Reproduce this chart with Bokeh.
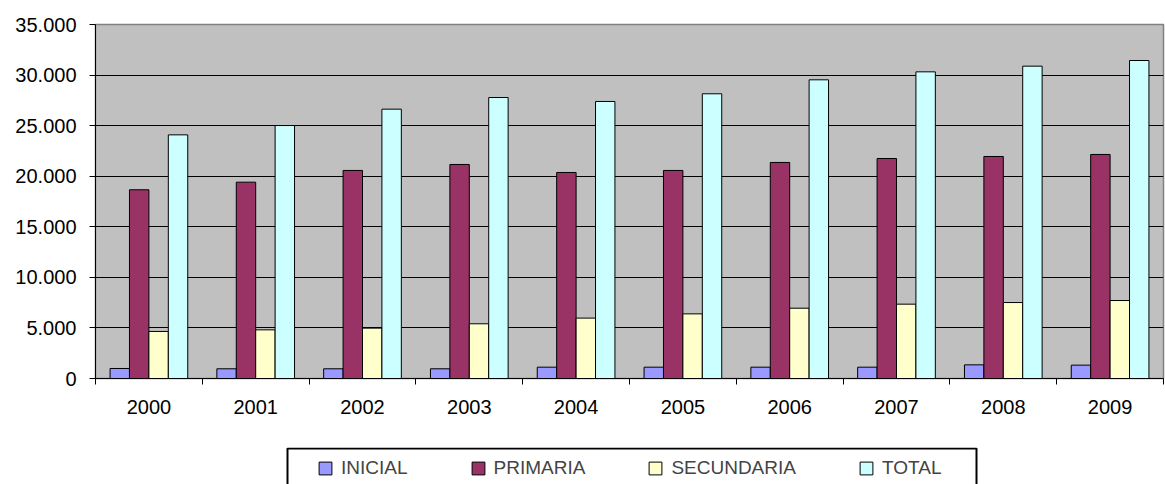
from bokeh.plotting import figure
from bokeh.layouts import column
from bokeh.models import (ColumnDataSource, FixedTicker, Legend, LegendItem, Range1d,
                          BoxAnnotation)
from bokeh.embed import file_html
from bokeh.resources import INLINE

# ---------------- data ----------------
years = ["2000", "2001", "2002", "2003", "2004", "2005", "2006", "2007", "2008", "2009"]
inicial = [990, 960, 960, 960, 1120, 1120, 1120, 1120, 1350, 1320]
primaria = [18660, 19410, 20570, 21160, 20370, 20570, 21360, 21750, 21950, 22150]
secundaria = [4650, 4810, 4980, 5410, 5970, 6390, 6950, 7350, 7510, 7710]
total = [24090, 25010, 26630, 27780, 27390, 28150, 29530, 30320, 30880, 31440]

series_names = ["INICIAL", "PRIMARIA", "SECUNDARIA", "TOTAL"]
series_colors = ["#9999FF", "#993366", "#FFFFCC", "#CCFFFF"]
series_values = [inicial, primaria, secundaria, total]

y_ticks = [0, 5000, 10000, 15000, 20000, 25000, 30000, 35000]
y_tick_labels = ["0", "5.000", "10.000", "15.000", "20.000", "25.000", "30.000", "35.000"]

FONT = "Liberation Sans"
n = len(years)
bar_w = 1 / 5.5

p = figure(width=1165, height=447, output_backend="svg", toolbar_location=None,
           x_range=Range1d(0, n), y_range=Range1d(0, y_ticks[-1]),
           min_border_left=95, min_border_right=2, min_border_top=24,
           min_border_bottom=69)
p.background_fill_color = "#C0C0C0"
p.border_fill_color = "white"
p.outline_line_color = "#808080"
p.outline_line_width = 1.5

sources = []
for k, (name, vals, col) in enumerate(zip(series_names, series_values, series_colors)):
    off = (k - 1.5) * bar_w
    src = ColumnDataSource(dict(x=[i + 0.5 + off for i in range(n)], top=vals))
    sources.append(src)
    p.vbar(x="x", top="top", bottom=0, width=bar_w, source=src,
           fill_color=col, line_color="black", line_width=1)

# x axis: labels at category centers, tick marks at category boundaries
p.xaxis.ticker = FixedTicker(ticks=[i + 0.5 for i in range(n)],
                             minor_ticks=list(range(n + 1)))
p.xaxis.major_label_overrides = {i + 0.5: y for i, y in enumerate(years)}
p.xaxis.major_tick_out = 0
p.xaxis.major_tick_in = 0
p.xaxis.minor_tick_out = 6
p.xaxis.minor_tick_in = 0
p.xaxis.minor_tick_line_color = "black"
p.xaxis.axis_line_color = "black"
p.xaxis.major_label_standoff = 15
p.xaxis.major_label_text_font = FONT
p.xaxis.major_label_text_font_size = "20px"
p.xaxis.major_label_text_color = "black"

# y axis
p.yaxis.ticker = FixedTicker(ticks=y_ticks)
p.yaxis.major_label_overrides = {t: l for t, l in zip(y_ticks, y_tick_labels)}
p.yaxis.major_tick_out = 6
p.yaxis.major_tick_in = 0
p.yaxis.minor_tick_line_color = None
p.yaxis.major_tick_line_color = "black"
p.yaxis.axis_line_color = "black"
p.yaxis.major_label_standoff = 13
p.yaxis.major_label_text_font = FONT
p.yaxis.major_label_text_font_size = "20px"
p.yaxis.major_label_text_color = "black"

p.xgrid.visible = False
p.ygrid.ticker = FixedTicker(ticks=y_ticks[1:-1])
p.ygrid.grid_line_color = "black"
p.ygrid.grid_line_width = 1

# ---------------- legend strip (same frame alignment as main plot) ----------------
# y range lies far from all values, so the legend-only markers stay out of view
lg = figure(width=1165, height=37, output_backend="svg", toolbar_location=None,
            x_range=Range1d(0, n), y_range=Range1d(-1000000, -900000),
            x_axis_type=None, y_axis_type=None,
            min_border_left=95, min_border_right=2, min_border_top=0,
            min_border_bottom=0)
lg.background_fill_color = "white"
lg.border_fill_color = "white"
lg.outline_line_color = None
lg.xgrid.visible = False
lg.ygrid.visible = False

items = []
for name, col, src in zip(series_names, series_colors, sources):
    r = lg.scatter(x="x", y="top", marker="square", size=13, source=src,
                   fill_color=col, line_color="black", line_width=1)
    items.append(LegendItem(label=name, renderers=[r]))

legend = Legend(items=items, orientation="horizontal", location=(214, 0),
                padding=0, margin=0, spacing=54, glyph_width=32, glyph_height=32,
                label_standoff=0, label_height=24, label_text_font=FONT,
                label_text_font_size="19px", border_line_color=None,
                background_fill_alpha=0)
lg.add_layout(legend)

box = BoxAnnotation(left=192, right=881, top=36, bottom=-6,
                    left_units="screen", right_units="screen",
                    top_units="screen", bottom_units="screen",
                    fill_color=None, fill_alpha=0, line_color="black",
                    line_alpha=1, line_width=2)
lg.add_layout(box)

layout = column(p, lg, spacing=0)
open("out.html", "w").write(file_html(layout, INLINE))
